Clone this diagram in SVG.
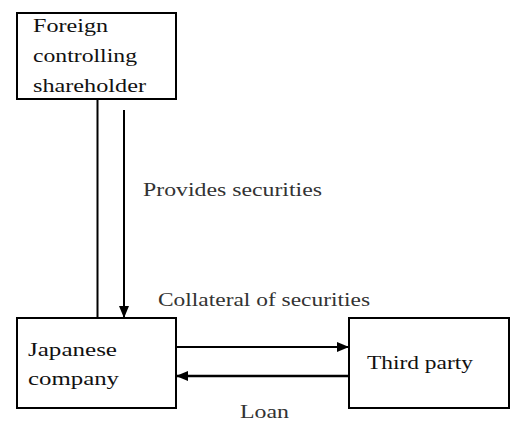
<svg xmlns="http://www.w3.org/2000/svg" width="513" height="421" viewBox="0 0 513 421">
<style>
.box{fill:#fff;stroke:#000;stroke-width:2}
.t{font-family:'Liberation Serif','Times New Roman',serif;font-size:19px;fill:#111}
.lbl{font-family:'Liberation Serif','Times New Roman',serif;font-size:19px;fill:#333}
.ln{stroke:#000;stroke-width:2;fill:none}
</style>
<defs>
<marker id="ah" markerWidth="12" markerHeight="10" refX="12" refY="5" orient="auto" markerUnits="userSpaceOnUse">
<path d="M0,0 L12,5 L0,10 Z" fill="#000"/>
</marker>
</defs>
<rect width="513" height="421" fill="#fff"/>
<g id="connectors">
<line class="ln" x1="97.5" y1="99" x2="97.5" y2="318"/>
<line class="ln" x1="124" y1="110" x2="124" y2="318" marker-end="url(#ah)"/>
<line class="ln" x1="176" y1="347" x2="349" y2="347" marker-end="url(#ah)"/>
<line class="ln" style="stroke-width:2.5" x1="349" y1="376" x2="176" y2="376" marker-end="url(#ah)"/>
<text class="lbl" x="143" y="196" textLength="179" lengthAdjust="spacingAndGlyphs">Provides securities</text>
<text class="lbl" x="158" y="306" textLength="212" lengthAdjust="spacingAndGlyphs">Collateral of securities</text>
<text class="lbl" x="240" y="418" textLength="49" lengthAdjust="spacingAndGlyphs">Loan</text>
</g>
<g id="foreign">
<rect class="box" x="17" y="13" width="159" height="86"/>
<text class="t" x="33" y="32" textLength="75" lengthAdjust="spacingAndGlyphs">Foreign</text>
<text class="t" x="33" y="62" textLength="104" lengthAdjust="spacingAndGlyphs">controlling</text>
<text class="t" x="33" y="92" textLength="113" lengthAdjust="spacingAndGlyphs">shareholder</text>
</g>
<g id="japanese">
<rect class="box" x="17" y="318" width="159" height="90"/>
<text class="t" x="28" y="356" textLength="89" lengthAdjust="spacingAndGlyphs">Japanese</text>
<text class="t" x="28" y="385" textLength="91" lengthAdjust="spacingAndGlyphs">company</text>
</g>
<g id="third">
<rect class="box" x="349" y="318" width="160" height="90"/>
<text class="t" x="367" y="369" textLength="106" lengthAdjust="spacingAndGlyphs">Third party</text>
</g>
</svg>
